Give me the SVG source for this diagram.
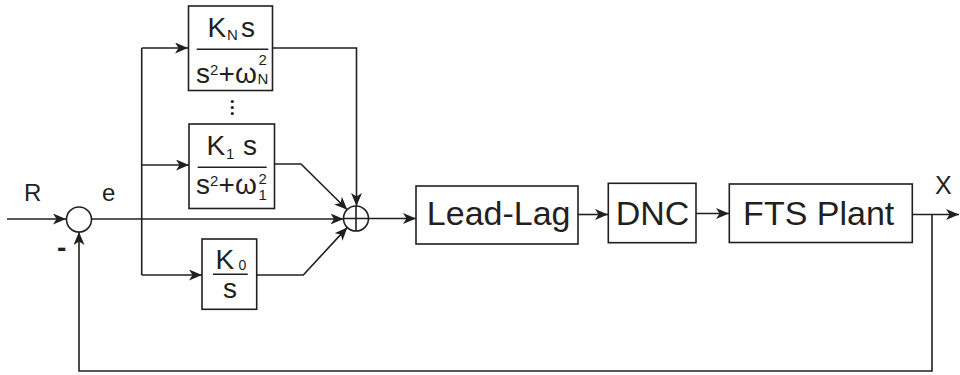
<svg xmlns="http://www.w3.org/2000/svg" width="960" height="375" viewBox="0 0 960 375">
<defs>
<style>
.box{fill:none;stroke:#231f20;stroke-width:1.6}
.ln{fill:none;stroke:#231f20;stroke-width:1.6}
.arr{fill:none;stroke:#231f20;stroke-width:1.6;marker-end:url(#ah)}
.t{font-family:"Liberation Sans",Arial,sans-serif;fill:#231f20}
.big{font-size:34px}
.f{font-size:28px}
.s{font-size:15px}
.lab{font-size:24px}
</style>
<marker id="ah" markerUnits="userSpaceOnUse" markerWidth="14" markerHeight="12" refX="13" refY="5.5" orient="auto">
<path d="M0,0 L13,5.5 L0,11 L3.5,5.5 z" fill="#231f20"/>
</marker>
</defs>
<rect width="960" height="375" fill="#ffffff"/>

<g id="connectors">
<path class="arr" d="M7,219 H66"/>
<path class="arr" d="M91.5,219 H343.5"/>
<path class="ln" d="M141.7,48 V275"/>
<path class="arr" d="M141.7,48 H188"/>
<path class="arr" d="M141.7,165 H189"/>
<path class="arr" d="M141.7,275 H202"/>
<path class="arr" d="M272.5,48 H356.5 V206"/>
<path class="arr" d="M274.5,164 H301 L347.3,209.8"/>
<path class="arr" d="M257,275 H303.3 L347.3,227.4"/>
<path class="arr" d="M368.5,218.5 H416"/>
<path class="arr" d="M578,214.5 H608"/>
<path class="arr" d="M696,213.5 H729"/>
<path class="arr" d="M912.5,214.5 H959"/>
<path class="arr" d="M932,214.5 V371 H79 V232"/>
</g>

<g id="sum_error">
<circle class="ln" cx="79" cy="219.5" r="12.5"/>
</g>
<g id="sum_main">
<circle class="ln" cx="356" cy="218.5" r="12.5"/>
<path class="ln" d="M343.5,218.5 H368.5 M356,206 V231"/>
</g>

<g id="labels">
<text class="t lab" x="24" y="201">R</text>
<text class="t lab" x="102" y="201">e</text>
<text class="t" x="57" y="257" style="font-size:28px;font-weight:bold">-</text>
<text class="t" x="935" y="193.5" style="font-size:25px">X</text>
</g>

<g id="block_KN">
<rect class="box" x="188.5" y="6" width="84" height="84.5"/>
<text class="t f" x="207.5" y="37">K</text>
<text class="t s" x="227" y="40">N</text>
<text class="t f" x="241" y="37">s</text>
<path class="ln" d="M196.7,49.3 H268.3"/>
<text class="t f" x="196" y="83">s</text>
<text class="t s" x="210" y="75">2</text>
<text class="t f" x="218.5" y="83">+</text>
<text class="t f" x="235" y="83">ω</text>
<text class="t s" x="258.5" y="65">2</text>
<text class="t s" x="257.5" y="84">N</text>
</g>

<g id="dots">
<circle cx="232.3" cy="101.5" r="1.6" fill="#231f20"/>
<circle cx="232.3" cy="107.5" r="1.6" fill="#231f20"/>
<circle cx="232.3" cy="113.5" r="1.6" fill="#231f20"/>
</g>

<g id="block_K1">
<rect class="box" x="189" y="124" width="85.5" height="84.5"/>
<text class="t f" x="206.5" y="155">K</text>
<text class="t s" x="226" y="159">1</text>
<text class="t f" x="243" y="155">s</text>
<path class="ln" d="M197.7,167.3 H266.7"/>
<text class="t f" x="196" y="194">s</text>
<text class="t s" x="210" y="186">2</text>
<text class="t f" x="218.5" y="194">+</text>
<text class="t f" x="235" y="194">ω</text>
<text class="t s" x="258.5" y="183.5">2</text>
<text class="t s" x="258.5" y="199.5">1</text>
</g>

<g id="block_K0">
<rect class="box" x="202" y="239" width="54.7" height="70.3"/>
<text class="t f" x="215.5" y="269">K</text>
<text class="t" x="238.5" y="269.5" style="font-size:14px">0</text>
<path class="ln" d="M213,274.3 H247.7"/>
<text class="t f" x="223" y="298">s</text>
</g>

<g id="block_leadlag">
<rect class="box" x="416" y="186" width="162" height="58"/>
<text class="t big" x="498.7" y="225" text-anchor="middle">Lead-Lag</text>
</g>

<g id="block_DNC">
<rect class="box" x="608.3" y="183.3" width="87.7" height="59.4"/>
<text class="t big" x="652.5" y="225" text-anchor="middle">DNC</text>
</g>

<g id="block_FTS">
<rect class="box" x="729.3" y="184" width="183" height="58.5"/>
<text class="t big" x="818.7" y="224.5" text-anchor="middle">FTS Plant</text>
</g>
</svg>
